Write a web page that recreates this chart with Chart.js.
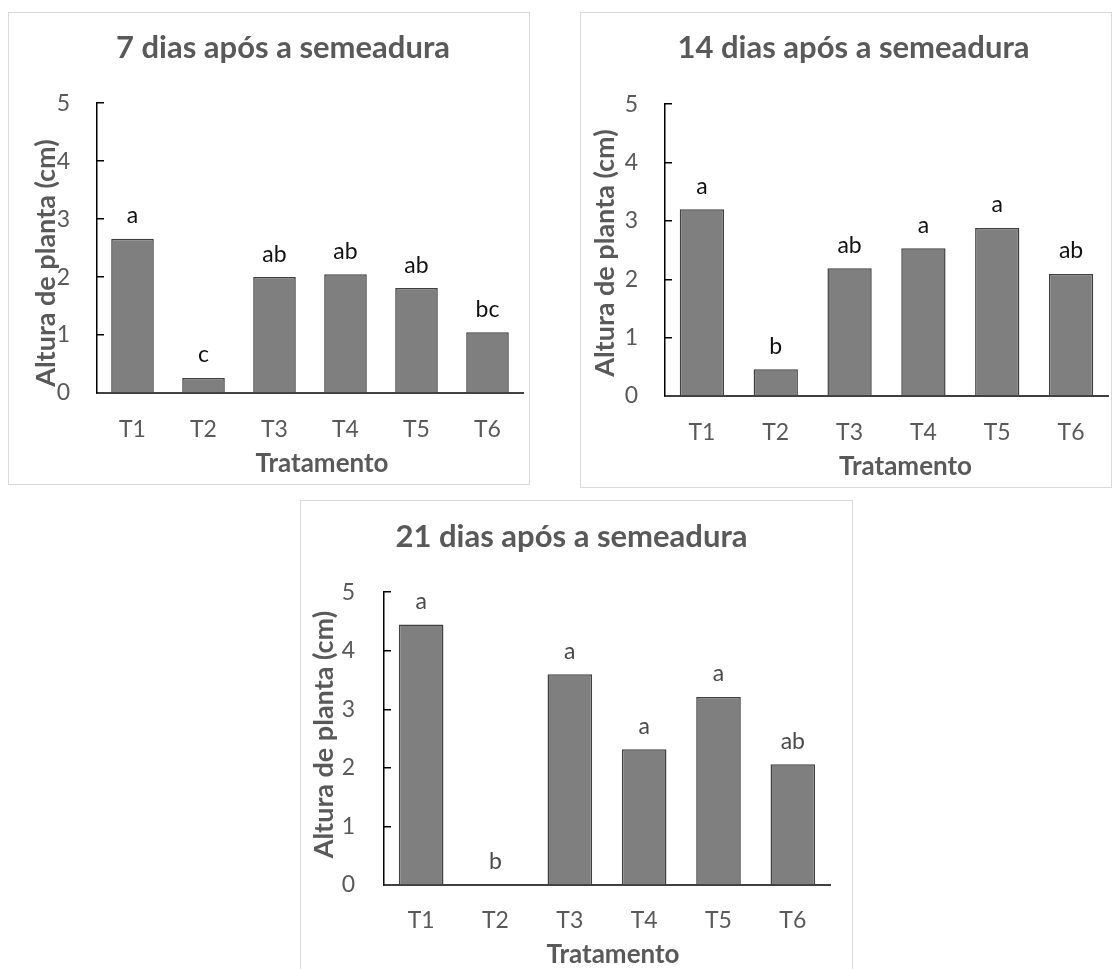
<!DOCTYPE html>
<html lang="pt">
<head>
<meta charset="utf-8">
<script src="https://cdn.jsdelivr.net/npm/chart.js@4.4.1/dist/chart.umd.min.js"></script>
<style>
    body { margin: 0; background: #fff; width: 1117px; height: 969px; overflow: hidden; position: relative; }
    .painel { position: absolute; border: 1px solid #d9d9d9; background: #fff; }
    .painel canvas { display: block; }
</style>
</head>
<body>
<div class="painel" id="p7" style="left:8px; top:12px; width:520px; height:471px;"><canvas id="grafico-7"></canvas></div>
<div class="painel" id="p14" style="left:580px; top:12px; width:530px; height:474px;"><canvas id="grafico-14"></canvas></div>
<div class="painel" id="p21" style="left:300px; top:500px; width:551px; height:478px;"><canvas id="grafico-21"></canvas></div>

<script>
// Dados (altura de planta, cm)
const tratamentos = ['T1', 'T2', 'T3', 'T4', 'T5', 'T6'];

const altura7 = [2.66, 0.26, 2.00, 2.05, 1.81, 1.05];
const letras7 = ['a', 'c', 'ab', 'ab', 'ab', 'bc'];

const altura14 = [3.20, 0.46, 2.19, 2.53, 2.88, 2.09];
const letras14 = ['a', 'b', 'ab', 'a', 'a', 'ab'];

const altura21 = [4.45, 0, 3.60, 2.32, 3.21, 2.06];
const letras21 = ['a', 'b', 'a', 'a', 'a', 'ab'];

const eixoY = { min: 0, max: 5, passo: 1 };

const FONTE = 'Lato, "Open Sans", sans-serif';
const CINZA = '#595959';

// letras de significância acima das barras
const letrasPlugin = {
    id: 'letras',
    afterDatasetsDraw(chart, args, opts) {
        const { ctx } = chart;
        const meta = chart.getDatasetMeta(0);
        ctx.save();
        ctx.font = `23px ${FONTE}`;
        ctx.fillStyle = opts.color;
        ctx.textAlign = 'center';
        ctx.textBaseline = 'middle';
        meta.data.forEach((bar, i) => {
            ctx.fillText(opts.letras[i], bar.x, bar.y - 23);
        });
        ctx.restore();
    }
};

// pequenos deslocamentos dos títulos (o Excel não centra exatamente)
const ajusteTitulos = {
    id: 'ajusteTitulos',
    afterLayout(chart, args, opts) {
        if (chart.titleBlock) {
            chart.titleBlock.left += opts.tituloDx;
            chart.titleBlock.right += opts.tituloDx;
        }
        const desloca = (scale, dx, dy) => {
            if (scale._tituloAjustado) return;
            const original = scale.drawTitle.bind(scale);
            scale.drawTitle = () => {
                scale.ctx.save();
                scale.ctx.translate(dx, dy);
                original();
                scale.ctx.restore();
            };
            scale._tituloAjustado = true;
        };
        desloca(chart.scales.x, opts.xTitDx, 0);
        desloca(chart.scales.y, 0, opts.yTitDy);
    }
};

const criarGrafico = (canvasId, valores, letras, titulo, g) => {
    const canvas = document.getElementById(canvasId);
    canvas.width = g.w;
    canvas.height = g.h;
    canvas.style.width = g.w + 'px';
    canvas.style.height = g.h + 'px';

    return new Chart(canvas.getContext('2d'), {
        type: 'bar',
        data: {
            labels: tratamentos,
            datasets: [{
                data: valores,
                backgroundColor: '#7f7f7f',
                borderColor: '#404040',
                borderWidth: 1.5,
                barPercentage: 0.6,
                categoryPercentage: 1.0,
            }]
        },
        plugins: [letrasPlugin, ajusteTitulos],
        options: {
            responsive: false,
            animation: false,
            layout: { padding: { left: 0, right: g.direita, top: 0, bottom: 0 } },
            plugins: {
                legend: { display: false },
                tooltip: { enabled: false },
                title: {
                    display: true,
                    text: titulo,
                    color: CINZA,
                    font: { family: FONTE, size: 31, weight: 'bold', lineHeight: 1.2 },
                    padding: { top: g.tituloTopo, bottom: g.tituloBase }
                },
                letras: { letras: letras, color: g.corLetras },
                ajusteTitulos: { tituloDx: g.tituloDx, xTitDx: g.xTitDx, yTitDy: g.yTitDy }
            },
            scales: {
                x: {
                    grid: { display: false, drawTicks: false },
                    border: { display: true, color: '#404040', width: 2 },
                    ticks: { color: CINZA, padding: g.xPad, font: { family: FONTE, size: 23 } },
                    title: {
                        display: true,
                        text: 'Tratamento',
                        color: CINZA,
                        font: { family: FONTE, size: 26, weight: 'bold', lineHeight: 1.2 },
                        padding: { top: 0, bottom: g.xTitPad }
                    },
                    afterFit: (scale) => { scale.height = g.xAltura; }
                },
                y: {
                    min: eixoY.min,
                    max: eixoY.max,
                    grid: { display: true, drawOnChartArea: false, drawTicks: true, tickLength: -7, color: '#000', lineWidth: 1.5 },
                    border: { display: true, color: '#000', width: 1.5 },
                    ticks: { stepSize: eixoY.passo, color: CINZA, padding: g.yPad, font: { family: FONTE, size: 23 } },
                    title: {
                        display: true,
                        text: 'Altura de planta (cm)',
                        color: CINZA,
                        font: { family: FONTE, size: 27, weight: 'bold', lineHeight: 1.2 },
                        padding: { top: g.yTitPad, bottom: 0 }
                    },
                    afterFit: (scale) => { scale.width = g.yLargura; }
                }
            }
        }
    });
};

criarGrafico('grafico-7', altura7, letras7, '7 dias após a semeadura', {
    w: 520, h: 471, direita: 6, tituloTopo: 16, tituloBase: 37, tituloDx: 17,
    yLargura: 88, yPad: 34, yTitPad: 21, yTitDy: 15,
    xAltura: 91, xPad: 23, xTitPad: 5, xTitDx: 12, corLetras: '#111'
});

criarGrafico('grafico-14', altura14, letras14, '14 dias após a semeadura', {
    w: 530, h: 474, direita: 3, tituloTopo: 16, tituloBase: 38, tituloDx: 9,
    yLargura: 84, yPad: 34, yTitPad: 8, yTitDy: 3,
    xAltura: 91, xPad: 23, xTitPad: 5, xTitDx: 19, corLetras: '#111'
});

criarGrafico('grafico-21', altura21, letras21, '21 dias após a semeadura', {
    w: 551, h: 478, direita: 22, tituloTopo: 17, tituloBase: 37, tituloDx: 6,
    yLargura: 83, yPad: 36, yTitPad: 7, yTitDy: -4,
    xAltura: 94, xPad: 22, xTitPad: 9, xTitDx: 6, corLetras: '#4a4a4a'
});
</script>
</body>
</html>
